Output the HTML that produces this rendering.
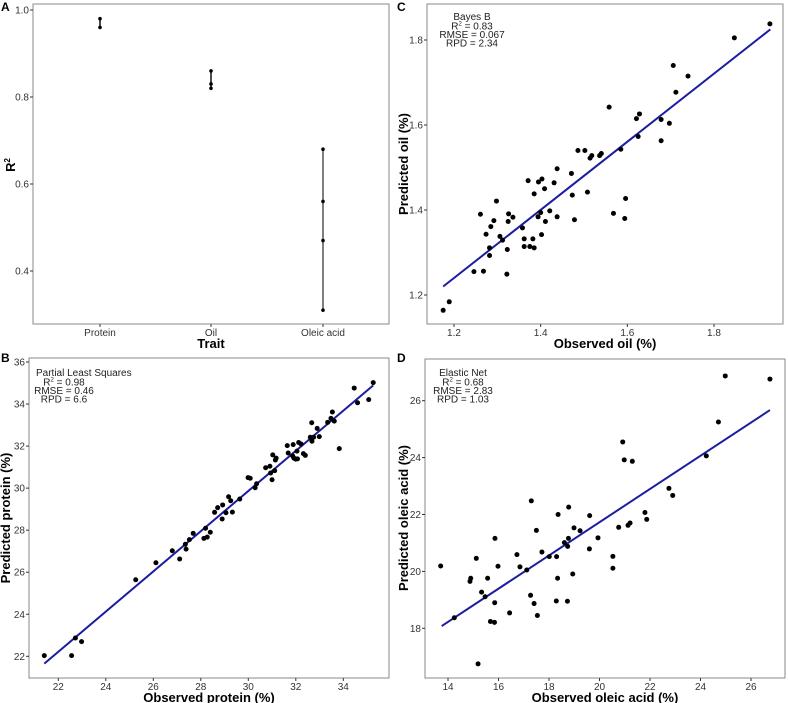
<!DOCTYPE html>
<html><head><meta charset="utf-8">
<style>
html,body{margin:0;padding:0;background:#fff;}
svg{display:block;font-family:"Liberation Sans",sans-serif;}
.tick{font-size:10px;fill:#333;}
.ttl{font-size:13px;font-weight:bold;fill:#000;}
.ann{font-size:10px;fill:#222;}
.lab{font-size:12px;font-weight:bold;}
</style></head>
<body>
<svg id="fig" width="788" height="703"></svg>
<script>
// Panel A data
const traitCats = ["Protein","Oil","Oleic acid"];
const r2Values = [[0.98,0.96],[0.86,0.83,0.82],[0.68,0.56,0.47,0.31]];
const aYTicks = [0.4,0.6,0.8,1.0];
// Panel C (oil)
const oilObs = [1.175,1.189,1.246,1.268,1.261,1.274,1.285,1.292,1.298,1.282,1.282,1.306,1.312,1.322,1.323,1.325,1.326,1.336,1.358,1.362,1.362,1.371,1.375,1.382,1.385,1.385,1.394,1.395,1.4,1.402,1.403,1.409,1.411,1.421,1.431,1.438,1.438,1.471,1.473,1.478,1.486,1.502,1.508,1.514,1.518,1.536,1.54,1.558,1.568,1.585,1.596,1.594,1.621,1.625,1.628,1.678,1.678,1.697,1.706,1.712,1.74,1.847,1.929];
const oilPred = [1.164,1.184,1.255,1.256,1.39,1.343,1.361,1.375,1.421,1.311,1.293,1.338,1.329,1.249,1.307,1.373,1.391,1.383,1.358,1.332,1.314,1.469,1.314,1.332,1.311,1.438,1.384,1.466,1.394,1.342,1.473,1.45,1.373,1.398,1.464,1.497,1.384,1.486,1.435,1.377,1.54,1.54,1.442,1.522,1.528,1.528,1.533,1.642,1.392,1.543,1.427,1.38,1.615,1.573,1.626,1.613,1.563,1.604,1.74,1.677,1.715,1.805,1.838];
const oilFit = [[1.175,1.22],[1.93,1.825]];
const cXTicks = [1.2,1.4,1.6,1.8];
const cYTicks = [1.2,1.4,1.6,1.8];
// Panel B (protein)
const protObs = [21.41,22.56,22.72,22.98,25.26,26.11,26.8,27.11,27.35,27.38,27.52,27.68,28.13,28.2,28.27,28.4,28.58,28.71,28.9,28.92,29.06,29.17,29.26,29.33,29.64,29.99,30.08,30.29,30.35,30.73,30.91,30.94,31.0,31.03,31.11,31.14,31.17,31.64,31.68,31.87,31.89,31.92,31.99,32.05,32.07,32.12,32.22,32.32,32.4,32.61,32.67,32.68,32.75,32.9,32.99,33.34,33.48,33.54,33.62,33.83,34.46,34.6,35.07,35.26];
const protPred = [22.03,22.03,22.87,22.7,25.64,26.45,27.02,26.63,27.33,27.1,27.55,27.85,27.61,28.09,27.67,27.9,28.85,29.07,28.53,29.2,28.83,29.59,29.4,28.86,29.48,30.5,30.47,30.02,30.21,30.97,31.04,30.72,30.4,31.58,30.83,31.34,31.43,32.02,31.67,31.53,32.07,31.43,31.38,31.76,31.39,32.17,32.1,31.64,31.56,32.42,33.11,32.23,32.42,32.84,32.45,33.13,33.32,33.62,33.19,31.88,34.76,34.06,34.21,35.02];
const protFit = [[21.41,21.65],[35.26,34.89]];
const bXTicks = [22,24,26,28,30,32,34];
const bYTicks = [22,24,26,28,30,32,34,36];
// Panel D (oleic)
const oleObs = [13.71,14.25,14.87,14.9,15.12,15.19,15.33,15.47,15.57,15.68,15.84,15.85,15.86,15.98,16.44,16.73,16.85,17.12,17.27,17.3,17.41,17.5,17.54,17.72,18.01,18.3,18.29,18.34,18.36,18.61,18.73,18.74,18.77,18.78,18.94,18.99,19.23,19.6,19.61,19.94,20.53,20.53,20.76,20.92,20.98,21.13,21.21,21.3,21.8,21.87,22.75,22.9,24.23,24.71,24.98,26.75];
const olePred = [20.19,18.37,19.65,19.76,20.46,16.75,19.27,19.11,19.76,18.24,18.21,18.9,21.16,20.18,18.54,20.59,20.16,20.05,19.16,22.48,18.87,21.44,18.45,20.68,20.52,20.52,18.96,19.76,22.0,21.01,18.95,20.88,21.16,22.26,19.91,21.53,21.43,20.79,21.96,21.18,20.53,20.11,21.55,24.55,23.92,21.62,21.7,23.87,22.07,21.83,22.92,22.67,24.06,25.25,26.87,26.76];
const oleFit = [[13.75,18.08],[26.75,25.67]];
const dXTicks = [14,16,18,20,22,24,26];
const dYTicks = [18,20,22,24,26];

const NS="http://www.w3.org/2000/svg";
const svg=document.getElementById('fig');
function mk(tag,attrs,parent){const e=document.createElementNS(NS,tag);for(const k in attrs)e.setAttribute(k,attrs[k]);(parent||svg).appendChild(e);return e;}
function lin(d0,d1,r0,r1){return v=>r0+(v-d0)/(d1-d0)*(r1-r0);}

function frame(g,box,xs,ys,xt,yt,xlab){
  const fr=mk('rect',{x:box.x0,y:box.y0,width:box.x1-box.x0,height:box.y1-box.y0,fill:'none',stroke:'#8a8a8a','stroke-width':1},g);
  
  
  xt.forEach((v,i)=>{const x=xs(v);
    mk('line',{x1:x,x2:x,y1:box.y1,y2:box.y1+3,stroke:'#333'},g);
    const t=mk('text',{x:x,y:box.y1+12,'text-anchor':'middle',class:'tick'},g);
    t.textContent=xlab?xlab[i]:v;
    
    });
  yt.forEach(v=>{const y=ys(v);
    mk('line',{x1:box.x0-3,x2:box.x0,y1:y,y2:y,stroke:'#333'},g);
    const t=mk('text',{x:box.x0-4,y:y+3.5,'text-anchor':'end',class:'tick'},g);
    t.textContent=(v<5?v.toFixed(1):v);
    
    });
}
function titles(g,xt,xx,xy,yt,yx,yy){
  const a=mk('text',{x:xx,y:xy,'text-anchor':'middle',class:'ttl'},g);a.textContent=xt;
  
  
  const b=mk('text',{x:yx,y:yy,'text-anchor':'middle',class:'ttl',transform:`rotate(-90 ${yx} ${yy})`},g);
  if(yt==='R2'){b.innerHTML='R<tspan dy="-5" font-size="8">2</tspan>';}else b.textContent=yt;
  
  
}
function label(g,t,x,y){const e=mk('text',{x:x,y:y,class:'lab'},g);e.textContent=t;
  
  }
function ann(g,lines,cx,y0,first,firstX){
  const t0=mk('text',{x:firstX!==undefined?firstX:cx,y:y0,'text-anchor':firstX!==undefined?'start':'middle',class:'ann'},g);t0.textContent=first;
  
  
  lines.forEach((l,i)=>{const t=mk('text',{x:cx,y:y0+9.5+i*8.5,'text-anchor':'middle',class:'ann'},g);
    if(i===0) t.innerHTML='R<tspan dy="-4" font-size="6">2</tspan><tspan dy="4"> = '+l+'</tspan>'; else t.textContent=l;
    
    });
}
function scatter(g,xs,ys,ox,oy,fit){
  const fl=mk('line',{x1:xs(fit[0][0]),y1:ys(fit[0][1]),x2:xs(fit[1][0]),y2:ys(fit[1][1]),stroke:'#1c1ca0','stroke-width':2},g);
  
  
  ox.forEach((v,i)=>{const c=mk('circle',{cx:xs(v),cy:ys(oy[i]),r:2.5,fill:'#000'},g);
    
    });
}

// Panel A
(function(){
  const g=mk('g',{});
  const box={x0:33,x1:389,y0:4,y1:324};
  const xs=i=>[100,211,323][i];
  const ys=lin(0.4,1.0,271,10);
  frame(g,box,xs,ys,[0,1,2],aYTicks,traitCats);
  r2Values.forEach((arr,i)=>{
    const mn=Math.min(...arr),mx=Math.max(...arr);
    const l=mk('line',{x1:xs(i),x2:xs(i),y1:ys(mn),y2:ys(mx),stroke:i===2?'#555':'#111','stroke-width':1.5},g);
    
    
    arr.forEach(v=>{const c=mk('circle',{cx:xs(i),cy:ys(v),r:1.8,fill:'#000'},g);
      
      });
  });
  titles(g,'Trait',211,348,'R2',15,165);
  label(g,'A',1,11);
})();
// Panel C
(function(){
  const g=mk('g',{});
  const box={x0:427,x1:783,y0:4,y1:324};
  const xs=lin(1.2,1.8,454,714), ys=lin(1.2,1.8,295,40);
  frame(g,box,xs,ys,cXTicks,cYTicks,cXTicks.map(v=>v.toFixed(1)));
  scatter(g,xs,ys,oilObs,oilPred,oilFit);
  ann(g,['0.83','RMSE = 0.067','RPD = 2.34'],472,20,'Bayes B');
  titles(g,'Observed oil (%)',605,348,'Predicted oil (%)',408,164);
  label(g,'C',397,11);
})();
// Panel B
(function(){
  const g=mk('g',{});
  const box={x0:29,x1:389,y0:358,y1:678};
  const xs=lin(22,34,58.3,343.3), ys=lin(22,36,656.3,362);
  frame(g,box,xs,ys,bXTicks,bYTicks);
  scatter(g,xs,ys,protObs,protPred,protFit);
  ann(g,['0.98','RMSE = 0.46','RPD = 6.6'],64,376,'Partial Least Squares',36);
  titles(g,'Observed protein (%)',209,702,'Predicted protein (%)',10,518);
  label(g,'B',1,362);
})();
// Panel D
(function(){
  const g=mk('g',{});
  const box={x0:425,x1:785,y0:359,y1:678};
  const xs=lin(14,26,448,751), ys=lin(18,26,628.3,400.7);
  frame(g,box,xs,ys,dXTicks,dYTicks);
  scatter(g,xs,ys,oleObs,olePred,oleFit);
  ann(g,['0.68','RMSE = 2.83','RPD = 1.03'],463,376,'Elastic Net');
  titles(g,'Observed oleic acid (%)',605,702,'Predicted oleic acid (%)',408,518);
  label(g,'D',397,362);
})();
</script>
</body></html>
